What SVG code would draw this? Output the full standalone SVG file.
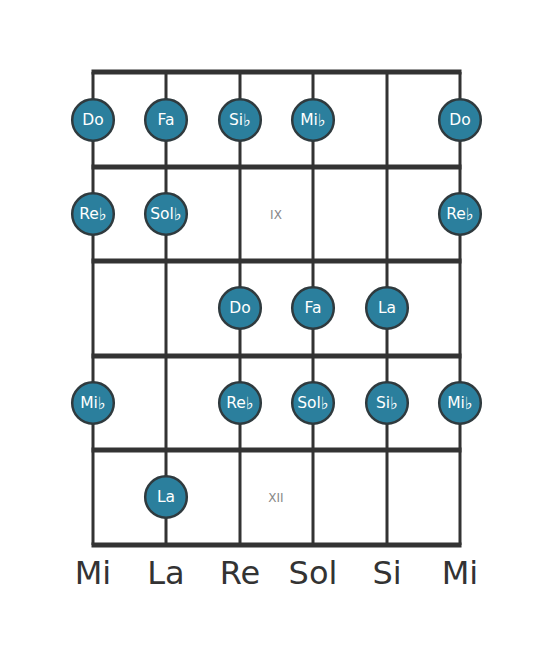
<svg xmlns="http://www.w3.org/2000/svg" width="553" height="656" viewBox="0 0 553 656">
<style>
.str{stroke:#333;stroke-width:3}
.fret{stroke:#333;stroke-width:5}
.n circle{fill:#2b7f9d;stroke:#2f3a3e;stroke-width:2.5}
.n text{fill:#fff;font-family:"DejaVu Sans",sans-serif;font-size:15.5px;text-anchor:middle;dominant-baseline:central}
.fl{font-size:17px}
.pos{fill:#888;font-family:"DejaVu Sans",sans-serif;font-size:12px;text-anchor:middle;dominant-baseline:central}
.lab{fill:#333;font-family:"DejaVu Sans",sans-serif;font-size:32px;text-anchor:middle}
</style>
<rect width="553" height="656" fill="#fff"/>
<g id="grid">
<line class="str" x1="93" y1="72" x2="93" y2="545"/>
<line class="str" x1="166" y1="72" x2="166" y2="545"/>
<line class="str" x1="240" y1="72" x2="240" y2="545"/>
<line class="str" x1="313" y1="72" x2="313" y2="545"/>
<line class="str" x1="387" y1="72" x2="387" y2="545"/>
<line class="str" x1="460" y1="72" x2="460" y2="545"/>
<line class="fret" x1="91.5" y1="72" x2="461.5" y2="72"/>
<line class="fret" x1="91.5" y1="167" x2="461.5" y2="167"/>
<line class="fret" x1="91.5" y1="261" x2="461.5" y2="261"/>
<line class="fret" x1="91.5" y1="356" x2="461.5" y2="356"/>
<line class="fret" x1="91.5" y1="450" x2="461.5" y2="450"/>
<line class="fret" x1="91.5" y1="545" x2="461.5" y2="545"/>
</g>
<text class="pos" x="276" y="215">IX</text>
<text class="pos" x="276" y="498">XII</text>
<g id="n1" class="n"><circle cx="93" cy="120" r="20.8"/><text x="93" y="120">Do</text></g>
<g id="n2" class="n"><circle cx="166" cy="120" r="20.8"/><text x="166" y="120">Fa</text></g>
<g id="n3" class="n"><circle cx="240" cy="120" r="20.8"/><text x="240" y="120">Si<tspan class="fl">♭</tspan></text></g>
<g id="n4" class="n"><circle cx="313" cy="120" r="20.8"/><text x="313" y="120">Mi<tspan class="fl">♭</tspan></text></g>
<g id="n5" class="n"><circle cx="460" cy="120" r="20.8"/><text x="460" y="120">Do</text></g>
<g id="n6" class="n"><circle cx="93" cy="214" r="20.8"/><text x="93" y="214">Re<tspan class="fl">♭</tspan></text></g>
<g id="n7" class="n"><circle cx="166" cy="214" r="20.8"/><text x="166" y="214">Sol<tspan class="fl">♭</tspan></text></g>
<g id="n8" class="n"><circle cx="460" cy="214" r="20.8"/><text x="460" y="214">Re<tspan class="fl">♭</tspan></text></g>
<g id="n9" class="n"><circle cx="240" cy="308" r="20.8"/><text x="240" y="308">Do</text></g>
<g id="n10" class="n"><circle cx="313" cy="308" r="20.8"/><text x="313" y="308">Fa</text></g>
<g id="n11" class="n"><circle cx="387" cy="308" r="20.8"/><text x="387" y="308">La</text></g>
<g id="n12" class="n"><circle cx="93" cy="403" r="20.8"/><text x="93" y="403">Mi<tspan class="fl">♭</tspan></text></g>
<g id="n13" class="n"><circle cx="240" cy="403" r="20.8"/><text x="240" y="403">Re<tspan class="fl">♭</tspan></text></g>
<g id="n14" class="n"><circle cx="313" cy="403" r="20.8"/><text x="313" y="403">Sol<tspan class="fl">♭</tspan></text></g>
<g id="n15" class="n"><circle cx="387" cy="403" r="20.8"/><text x="387" y="403">Si<tspan class="fl">♭</tspan></text></g>
<g id="n16" class="n"><circle cx="460" cy="403" r="20.8"/><text x="460" y="403">Mi<tspan class="fl">♭</tspan></text></g>
<g id="n17" class="n"><circle cx="166" cy="497" r="20.8"/><text x="166" y="497">La</text></g>
<g id="labels">
<text class="lab" x="93" y="584">Mi</text>
<text class="lab" x="166" y="584">La</text>
<text class="lab" x="240" y="584">Re</text>
<text class="lab" x="313" y="584">Sol</text>
<text class="lab" x="387" y="584">Si</text>
<text class="lab" x="460" y="584">Mi</text>
</g>
</svg>
